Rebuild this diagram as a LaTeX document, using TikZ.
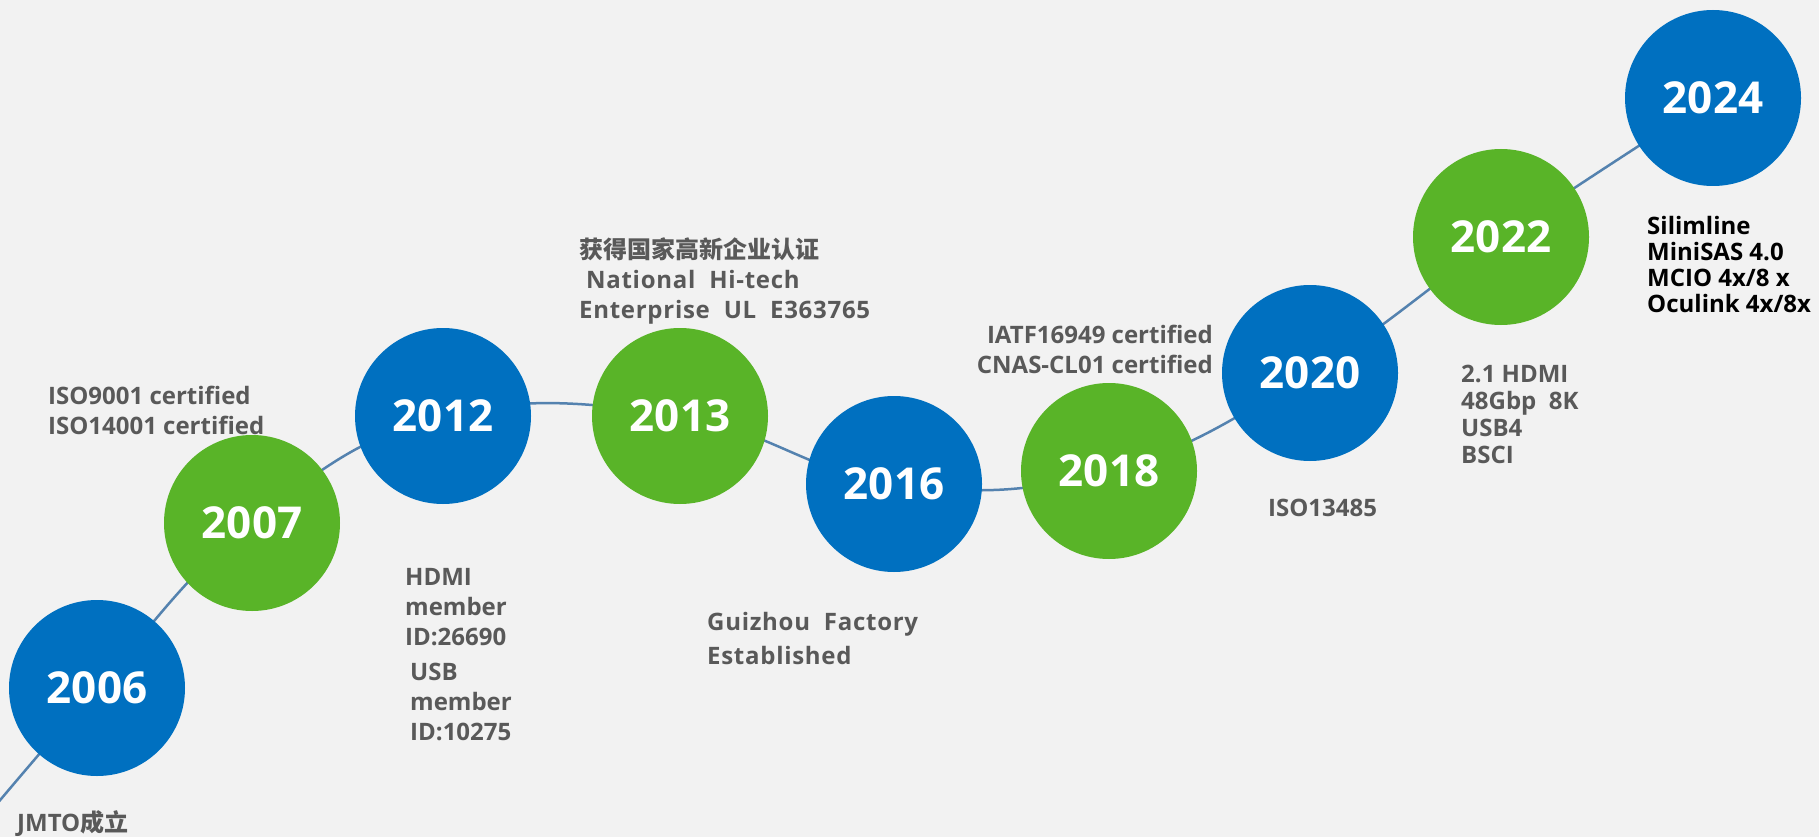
\documentclass[tikz,border=0pt]{standalone}
\usepackage{fontspec}
\setmainfont{Open Sans}
\newfontfamily\cjkfont{Noto Sans CJK SC}
\newfontfamily\widefont{Open Sans}[LetterSpace=3]
\usetikzlibrary{backgrounds}
\definecolor{paper}{RGB}{242,242,242}
\definecolor{jmblue}{RGB}{0,112,192}
\definecolor{jmgreen}{RGB}{89,180,40}
\definecolor{notegray}{RGB}{89,89,89}
\definecolor{linkline}{RGB}{84,130,175}
\tikzset{
    year/.style ={circle, minimum size=176pt, inner sep=0pt, text=white,
                  font=\bfseries\fontsize{44}{44}\selectfont},
    yearblue/.style ={year, fill=jmblue},
    yeargreen/.style ={year, fill=jmgreen},
    note/.style ={anchor=north west, inner sep=0pt, align=left, text=notegray,
                  font=\bfseries\fontsize{24}{30}\selectfont}
}

\begin{document}
\begin{tikzpicture}[
  x=1pt, y=-1pt,
  timeline/.style={draw=linkline, line width=2.5pt}
]
\useasboundingbox (0,0) rectangle (1819,837);

% Year circles
\node[yearblue]  (y2006) at (97,688)   {2006};
\node[yeargreen] (y2007) at (252,523)  {2007};
\node[yearblue]  (y2012) at (443,416)  {2012};
\node[yeargreen] (y2013) at (680,416)  {2013};
\node[yearblue]  (y2016) at (894,484)  {2016};
\node[yeargreen] (y2018) at (1109,471) {2018};
\node[yearblue]  (y2020) at (1310,373) {2020};
\node[yeargreen] (y2022) at (1501,237) {2022};
\node[yearblue]  (y2024) at (1713,98)  {2024};

% Notes
\node[note, anchor=base west] (n2006) at (17,831) {JMTO{\cjkfont 成立}};
\node[note] (n2007) at (48,386) {ISO9001 certified\\ISO14001 certified};
\node[note] (n2012a) at (405,568) {HDMI\\member\\ID:26690};
\node[note] (n2012b) at (410,663) {USB\\member\\ID:10275};
\node[note] (n2013) at (579,237) {{\cjkfont 获得国家高新企业认证}\\
  {\widefont\ National\ \ Hi-tech}\\{\widefont Enterprise\ \ UL\ \ E363765}};
\node[note, font=\bfseries\fontsize{24}{34}\selectfont] (n2016) at (707,612)
  {{\widefont Guizhou\ \ Factory}\\{\widefont Established}};
\node[note, anchor=north east, align=right] (n2018) at (1213,325)
  {IATF16949 certified\\CNAS-CL01 certified};
\node[note] (n2020) at (1268,499) {ISO13485};
\node[note, font=\bfseries\fontsize{24}{27}\selectfont] (n2022) at (1461,365)
  {2.1 HDMI\\48Gbp\ \ 8K\\USB4\\BSCI};
\node[note, text=black, font=\bfseries\fontsize{24}{26}\selectfont] (n2024) at (1647,216)
  {Silimline\\MiniSAS 4.0\\MCIO 4x/8 x\\Oculink 4x/8x};

% Timeline behind the circles
\begin{scope}[on background layer]
\clip (0,0) rectangle (1819,837);
\fill[paper] (0,0) rectangle (1819,837);
\coordinate (tstart) at (-40,848);
\draw[timeline] plot[smooth, tension=0.7] coordinates {(tstart) (y2006.center)
  (y2007.center) (y2012.center) (y2013.center) (y2016.center) (y2018.center)
  (y2020.center) (y2022.center) (y2024.center)};
\end{scope}
\end{tikzpicture}
\end{document}
